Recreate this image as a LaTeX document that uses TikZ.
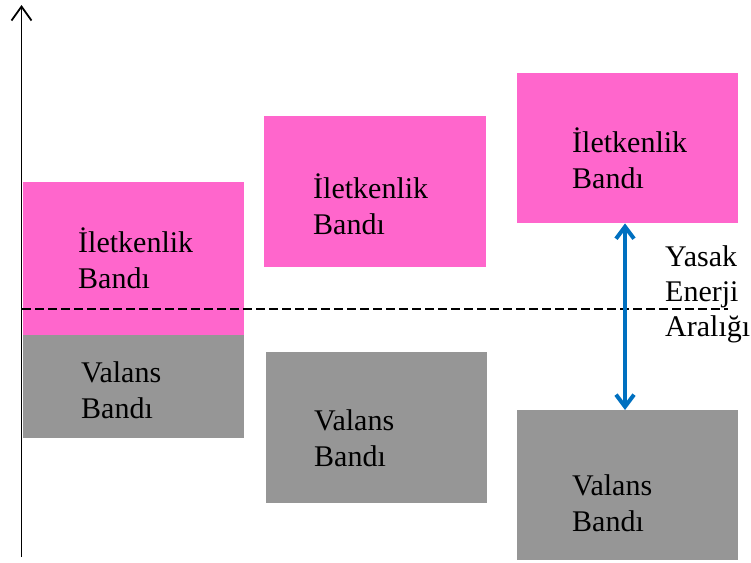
\documentclass[tikz,border=0pt]{standalone}
\usepackage{fontspec}
\setmainfont{Liberation Serif}
\usetikzlibrary{arrows.meta}
\definecolor{bandpink}{HTML}{FF66CC}
\definecolor{bandgray}{HTML}{969696}
\definecolor{gapblue}{HTML}{0070C0}
\begin{document}
\begin{tikzpicture}[x=1pt,y=-1pt,
  band/.style={draw=none, inner sep=0pt, anchor=north west},
  cband/.style={band, fill=bandpink},
  vband/.style={band, fill=bandgray},
  lbl/.style={anchor=base west, inner sep=0pt, align=left, font=\fontsize{30}{36}\selectfont},
]
\useasboundingbox (0,0) rectangle (751,562);
% bands
\node[cband, minimum width=221pt, minimum height=153pt] (c1) at (23,182) {};
\node[vband, minimum width=221pt, minimum height=103pt] (v1) at (23,335) {};
\node[cband, minimum width=222pt, minimum height=151pt] (c2) at (264,116) {};
\node[vband, minimum width=221pt, minimum height=151pt] (v2) at (266,352) {};
\node[cband, minimum width=221pt, minimum height=150pt] (c3) at (517,73) {};
\node[vband, minimum width=221pt, minimum height=150pt] (v3) at (517,410) {};
% labels (anchored at the baseline of the last line)
\node[lbl] (t1) at (78,288) {İletkenlik\\Bandı};
\node[lbl] (t2) at (81,418) {Valans\\Bandı};
\node[lbl] (t3) at (313,234) {İletkenlik\\Bandı};
\node[lbl] (t4) at (314,466) {Valans\\Bandı};
\node[lbl] (t5) at (572,188) {İletkenlik\\Bandı};
\node[lbl] (t6) at (572,531) {Valans\\Bandı};
\node[lbl, font=\fontsize{30}{35}\selectfont] (gap) at (665,336) {Yasak\\Enerji\\Aralığı};
% dashed level
\coordinate (dl) at (22,309);
\coordinate (dr) at (728,309);
\draw[line width=1.3pt, dash pattern=on 9pt off 4pt] (dl) -- (dr);
% energy axis
\coordinate (axbot) at (21.5,557);
\coordinate (axtop) at (21.5,5);
\draw[line width=1.8pt, -{Straight Barb[length=14pt,width=20pt]}] (axbot) -- (axtop);
% band gap arrow
\coordinate (gx) at (625,0);
\draw[gapblue, line width=4pt, {Straight Barb[length=12pt,width=18pt]}-{Straight Barb[length=12pt,width=18pt]}]
  (c3.south -| gx) -- (v3.north -| gx);
\end{tikzpicture}
\end{document}
